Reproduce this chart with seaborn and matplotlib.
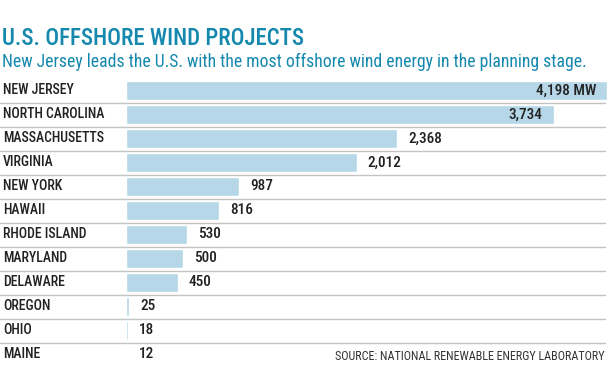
import pandas as pd
import seaborn as sns
import matplotlib.pyplot as plt
from matplotlib import font_manager

states = ['NEW JERSEY', 'NORTH CAROLINA', 'MASSACHUSETTS', 'VIRGINIA', 'NEW YORK',
          'HAWAII', 'RHODE ISLAND', 'MARYLAND', 'DELAWARE', 'OREGON', 'OHIO', 'MAINE']
megawatts = [4198, 3734, 2368, 2012, 987, 816, 530, 500, 450, 25, 18, 12]
value_labels = ['4,198 MW', '3,734', '2,368', '2,012', '987', '816', '530', '500',
                '450', '25', '18', '12']

title = 'U.S. OFFSHORE WIND PROJECTS'
subtitle = 'New Jersey leads the U.S. with the most offshore wind energy in the planning stage.'
source = 'SOURCE: NATIONAL RENEWABLE ENERGY LABORATORY'

TEAL = '#1488ad'
BAR = '#b5d7e8'
INK = '#222222'

# look for a narrow font, the original uses a condensed face
names = {f.name for f in font_manager.fontManager.ttflist}
narrow = 'Roboto'
for cand in ['Liberation Sans Narrow', 'DejaVu Sans Condensed', 'Roboto Condensed']:
    if cand in names:
        narrow = cand
        break

sns.set_style('white')
plt.rcParams['font.family'] = [narrow, 'DejaVu Sans']

df = pd.DataFrame({'state': states, 'mw': megawatts})

fig = plt.figure(figsize=(6.1, 3.84), dpi=100)
W, H = 610, 384
top, bottom = 78.5, 366.5
left, right = 126, 607
ax = fig.add_axes([left / W, 1 - bottom / H, (right - left) / W, (bottom - top) / H])

sns.barplot(data=df, y='state', x='mw', color=BAR, width=0.78, saturation=1, ax=ax)
ax.set_xlim(0, 4198)
ax.set_axis_off()

# row separators, running under the state names too
for i in range(len(states) - 1):
    ax.axhline(i + 0.52, xmin=-left / (right - left), xmax=(605 - left) / (right - left),
               color='#c4c4c4', lw=1, clip_on=False, zorder=0)

for i, (v, lab) in enumerate(zip(megawatts, value_labels)):
    if v > 3000:
        ax.annotate(lab, (v, i), xytext=(-8, 0), textcoords='offset points',
                    ha='right', va='center', fontsize=11, fontweight='medium', color=INK)
    else:
        ax.annotate(lab, (v, i), xytext=(8, 0), textcoords='offset points',
                    ha='left', va='center', fontsize=11, fontweight='medium', color=INK)
    ax.annotate(states[i], (0, i), xycoords=('figure fraction', 'data'),
                xytext=(2, 0), textcoords='offset points', ha='left', va='center',
                fontsize=9.9, fontweight='medium', color=INK)

fig.text(2 / W, 1 - 45 / H, title, fontsize=16.5, color=TEAL,
         fontweight='medium', ha='left', va='baseline')
fig.text(2 / W, 1 - 67 / H, subtitle, fontsize=12.7, color=TEAL,
         ha='left', va='baseline')
fig.text(605 / W, 1 - 360 / H, source, fontsize=8.7, color='#333333',
         ha='right', va='baseline')

fig.savefig('out.png', dpi=100)
